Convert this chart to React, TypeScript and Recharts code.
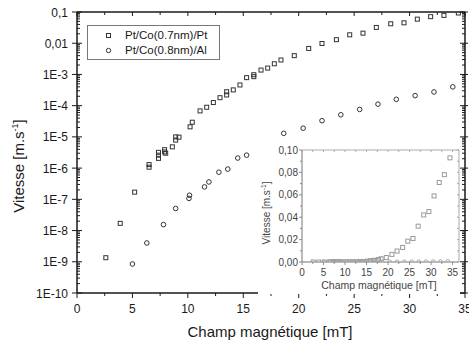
import React from 'react';
import { ScatterChart, Scatter, XAxis, YAxis, Legend } from 'recharts';

const FONT = 'Arial, "Liberation Sans", Helvetica, sans-serif';

// Pt/Co(0.7nm)/Pt
const ptPtField = [2.6, 3.9, 5.2, 6.5, 6.5, 7.35, 7.35, 7.35, 7.9, 7.9, 8.0, 8.6, 8.9, 8.9, 9.2, 10.2, 10.4, 11.1, 11.7, 12.3, 12.9, 13.5, 13.5, 14.1, 14.7, 15.3, 15.95, 15.95, 16.6, 17.2, 17.8, 18.4, 19.6, 20.9, 22.1, 23.4, 24.6, 25.8, 27.0, 28.3, 29.5, 30.7, 31.9, 33.1, 34.4];
const ptPtSpeed = [1.35e-9, 1.7e-8, 1.7e-7, 1.3e-6, 1.07e-6, 3.2e-6, 2.6e-6, 2.05e-6, 3.9e-6, 3.3e-6, 3.0e-6, 4.8e-6, 1.0e-5, 7.9e-6, 9.8e-6, 2.1e-5, 2.95e-5, 6.8e-5, 8.9e-5, 1.26e-4, 1.8e-4, 2.2e-4, 2.8e-4, 3.2e-4, 4.6e-4, 7.9e-4, 9.8e-4, 8.5e-4, 1.38e-3, 1.6e-3, 2.2e-3, 2.9e-3, 4.0e-3, 6.8e-3, 9.8e-3, 1.3e-2, 1.86e-2, 2.1e-2, 3.2e-2, 4.2e-2, 4.5e-2, 5.9e-2, 7.1e-2, 7.8e-2, 9.3e-2];

// Pt/Co(0.8nm)/Al
const ptAlField = [5.0, 6.3, 7.8, 8.9, 10.1, 10.15, 11.5, 11.9, 12.8, 13.6, 14.5, 15.3, 17.0, 18.65, 20.4, 22.1, 23.8, 25.5, 27.15, 28.8, 30.5, 32.2, 33.9];
const ptAlSpeed = [8.5e-10, 4.0e-9, 1.55e-8, 5.1e-8, 1.07e-7, 1.35e-7, 2.5e-7, 3.6e-7, 7.4e-7, 9.3e-7, 2.1e-6, 2.6e-6, 5.6e-6, 1.3e-5, 1.9e-5, 3.3e-5, 5.1e-5, 7.6e-5, 1.12e-4, 1.6e-4, 2.1e-4, 2.75e-4, 4.0e-4];

const seriesNames = ['Pt/Co(0.7nm)/Pt', 'Pt/Co(0.8nm)/Al'];

// main axes
const fieldTicks = [0, 2.5, 5, 7.5, 10, 12.5, 15, 17.5, 20, 22.5, 25, 27.5, 30, 32.5, 35];
const fieldMajor = [0, 5, 10, 15, 20, 25, 30, 35];
const speedDecades = [1e-10, 1e-9, 1e-8, 1e-7, 1e-6, 1e-5, 1e-4, 1e-3, 1e-2, 1e-1];
const speedLabels = ['1E-10', '1E-9', '1E-8', '1E-7', '1E-6', '1E-5', '1E-4', '1E-3', '0,01', '0,1'];
const minorMult = [2, 3, 4, 5, 6, 7, 8, 9];

// inset axes
const insetFieldTicks = [0, 2.5, 5, 7.5, 10, 12.5, 15, 17.5, 20, 22.5, 25, 27.5, 30, 32.5, 35];
const insetSpeedTicks = [0, 0.01, 0.02, 0.03, 0.04, 0.05, 0.06, 0.07, 0.08, 0.09, 0.1];
const insetSpeedMajor = [0, 0.02, 0.04, 0.06, 0.08, 0.1];
const insetSpeedLabels = ['0,00', '0,02', '0,04', '0,06', '0,08', '0,10'];

const ptPtData = ptPtField.map((f, i) => ({ field: f, speed: ptPtSpeed[i] }));
const ptAlData = ptAlField.map((f, i) => ({ field: f, speed: ptAlSpeed[i] }));

const speedTicks = [
  ...speedDecades,
  ...speedDecades.slice(0, -1).flatMap((d) => minorMult.map((m) => m * d)),
].sort((a, b) => a - b);

const speedLabelOf = new Map(speedDecades.map((d, i) => [d, speedLabels[i]]));
const insetLabelOf = new Map(insetSpeedMajor.map((d, i) => [d, insetSpeedLabels[i]]));

const INK = '#1a1a1a';
const GREY = '#777';

const BottomTick = ({ x, y, payload }: any) => {
  const major = fieldMajor.includes(payload.value);
  return (
    <g>
      <line x1={x} x2={x} y1={y} y2={y + (major ? 5 : 3)} stroke={INK} strokeWidth={1} />
      {major && (
        <text x={x} y={y + 20} textAnchor="middle" fontSize={12} fontFamily={FONT} fill={INK}>
          {payload.value}
        </text>
      )}
    </g>
  );
};

const TopTick = ({ x, y, payload }: any) => {
  const major = fieldMajor.includes(payload.value);
  return <line x1={x} x2={x} y1={y} y2={y + (major ? 4 : 3)} stroke={INK} strokeWidth={1} />;
};

const LeftTick = ({ x, y, payload }: any) => {
  const label = speedLabelOf.get(payload.value);
  return (
    <g>
      <line x1={label ? x - 5 : x} x2={label ? x + 5 : x + 3} y1={y} y2={y} stroke={INK} strokeWidth={1} />
      {label && (
        <text x={x - 9} y={y + 4.5} textAnchor="end" fontSize={12} fontFamily={FONT} fill={INK}>
          {label}
        </text>
      )}
    </g>
  );
};

const RightTick = ({ x, y, payload }: any) => {
  const major = speedLabelOf.has(payload.value);
  return <line x1={major ? x - 5 : x - 3} x2={major ? x + 3 : x} y1={y} y2={y} stroke={INK} strokeWidth={1} />;
};

const InsetBottomTick = ({ x, y, payload }: any) => {
  const major = fieldMajor.includes(payload.value);
  return (
    <g>
      <line x1={x} x2={x} y1={y} y2={y + (major ? 3 : 2)} stroke={GREY} strokeWidth={0.8} />
      {major && (
        <text x={x} y={y + 14} textAnchor="middle" fontSize={10} fontFamily={FONT} fill="#444">
          {payload.value}
        </text>
      )}
    </g>
  );
};

const InsetTopTick = ({ x, y }: any) => (
  <line x1={x} x2={x} y1={y} y2={y + 2} stroke="#999" strokeWidth={0.8} />
);

const InsetLeftTick = ({ x, y, payload }: any) => {
  const label = insetLabelOf.get(payload.value);
  return (
    <g>
      <line x1={x - (label ? 3 : 2)} x2={x} y1={y} y2={y} stroke={GREY} strokeWidth={0.8} />
      {label && (
        <text x={x - 4} y={y + 3.5} textAnchor="end" fontSize={10} fontFamily={FONT} fill="#444">
          {label}
        </text>
      )}
    </g>
  );
};

const InsetRightTick = ({ x, y }: any) => (
  <line x1={x - 2} x2={x} y1={y} y2={y} stroke="#999" strokeWidth={0.8} />
);

const square = (color: string, s: number) => (p: any) => (
  <rect x={p.cx - s / 2} y={p.cy - s / 2} width={s} height={s} fill="none" stroke={color} strokeWidth={1} />
);
const circle = (color: string, r: number) => (p: any) => (
  <circle cx={p.cx} cy={p.cy} r={r} fill="none" stroke={color} strokeWidth={1} />
);
const nothing = () => <g />;

const LegendBox = () => (
  <div
    style={{
      width: 133,
      height: 35,
      border: `1px solid ${GREY}`,
      background: '#fff',
      fontFamily: FONT,
      fontSize: 11.5,
      color: INK,
      paddingTop: 2,
      boxSizing: 'border-box',
    }}
  >
    {seriesNames.map((name, i) => (
      <div key={name} style={{ display: 'flex', alignItems: 'center', height: 15 }}>
        <svg width={37} height={15}>
          {i === 0 ? (
            <rect x={18.5} y={5.5} width={4} height={4} fill="none" stroke="#333" />
          ) : (
            <circle cx={20.5} cy={7.5} r={2.2} fill="none" stroke="#333" />
          )}
        </svg>
        <span style={{ lineHeight: '15px', whiteSpace: 'nowrap' }}>{name}</span>
      </div>
    ))}
  </div>
);

const MainYTitle = () => (
  <text transform="rotate(-90 24 166)" x={24} y={166} textAnchor="middle" fontSize={15} fontFamily={FONT} fill={INK}>
    Vitesse [m.s<tspan dy={-6} fontSize={9}>-1</tspan>
    <tspan dy={6}>]</tspan>
  </text>
);

const MainXTitle = () => (
  <text x={270} y={337} textAnchor="middle" fontSize={15} fontFamily={FONT} fill={INK}>
    Champ magnétique [mT]
  </text>
);

const InsetYTitle = () => (
  <text transform="rotate(-90 12 72)" x={12} y={72} textAnchor="middle" fontSize={10} fontFamily={FONT} fill="#444">
    Vitesse [m.s<tspan dy={-4} fontSize={6.5}>-1</tspan>
    <tspan dy={4}>]</tspan>
  </text>
);

const InsetXTitle = () => (
  <text x={121} y={148} textAnchor="middle" fontSize={10.5} fontFamily={FONT} fill="#444">
    Champ magnétique [mT]
  </text>
);

export default function App() {
  return (
    <div style={{ position: 'absolute', left: 0, top: 0, width: 469, height: 345, background: '#fff' }}>
      <ScatterChart width={469} height={345} margin={{ top: 12, right: 4, bottom: 22, left: 17 }}>
        <XAxis
          xAxisId="main"
          dataKey="field"
          type="number"
          domain={[0, 35]}
          ticks={fieldTicks}
          interval={0}
          tickSize={0}
          tickMargin={0}
          tick={<BottomTick />}
          height={30}
          axisLine={{ stroke: INK, strokeWidth: 1.5 }}
          allowDataOverflow
          label={<MainXTitle />}
        />
        <XAxis
          xAxisId="top"
          orientation="top"
          dataKey="field"
          type="number"
          domain={[0, 35]}
          ticks={fieldTicks}
          interval={0}
          tickSize={0}
          tickMargin={0}
          tick={<TopTick />}
          height={1}
          mirror
          axisLine={{ stroke: INK, strokeWidth: 1.5 }}
          allowDataOverflow
        />
        <YAxis
          yAxisId="main"
          dataKey="speed"
          type="number"
          scale="log"
          domain={[1e-10, 0.1]}
          ticks={speedTicks}
          interval={0}
          tickSize={0}
          tickMargin={0}
          tick={<LeftTick />}
          width={60}
          axisLine={{ stroke: INK, strokeWidth: 1.5 }}
          allowDataOverflow
          label={<MainYTitle />}
        />
        <YAxis
          yAxisId="right"
          orientation="right"
          dataKey="speed"
          type="number"
          scale="log"
          domain={[1e-10, 0.1]}
          ticks={speedTicks}
          interval={0}
          tickSize={0}
          tickMargin={0}
          tick={<RightTick />}
          width={1}
          mirror
          axisLine={{ stroke: INK, strokeWidth: 1.5 }}
          allowDataOverflow
        />
        <Legend
          layout="horizontal"
          verticalAlign="middle"
          align="center"
          wrapperStyle={{ left: 87, top: 25, width: 134 }}
          content={<LegendBox />}
        />
        <Scatter
          name={seriesNames[0]}
          data={ptPtData}
          xAxisId="main"
          yAxisId="main"
          shape={square('#333', 4)}
          isAnimationActive={false}
        />
        <Scatter
          name={seriesNames[1]}
          data={ptAlData}
          xAxisId="main"
          yAxisId="main"
          shape={circle('#333', 2.3)}
          isAnimationActive={false}
        />
        <Scatter
          data={ptPtData}
          xAxisId="top"
          yAxisId="right"
          shape={nothing}
          legendType="none"
          isAnimationActive={false}
        />
      </ScatterChart>

      <div style={{ position: 'absolute', left: 258, top: 141, width: 202, height: 153, background: '#fff' }}>
        <ScatterChart width={202} height={153} margin={{ top: 9, right: 1, bottom: 2, left: 8 }}>
          <XAxis
            xAxisId="main"
            dataKey="field"
            type="number"
            domain={[0, 36.5]}
            ticks={insetFieldTicks}
            interval={0}
            tickSize={0}
            tickMargin={0}
            tick={<InsetBottomTick />}
            height={30}
            axisLine={{ stroke: GREY, strokeWidth: 1 }}
            allowDataOverflow
            label={<InsetXTitle />}
          />
          <XAxis
            xAxisId="top"
            orientation="top"
            dataKey="field"
            type="number"
            domain={[0, 36.5]}
            ticks={insetFieldTicks}
            interval={0}
            tickSize={0}
            tickMargin={0}
            tick={<InsetTopTick />}
            height={1}
            mirror
            axisLine={{ stroke: '#aaa', strokeWidth: 1 }}
            allowDataOverflow
          />
          <YAxis
            yAxisId="main"
            dataKey="speed"
            type="number"
            domain={[0, 0.1]}
            ticks={insetSpeedTicks}
            interval={0}
            tickSize={0}
            tickMargin={0}
            tick={<InsetLeftTick />}
            width={36}
            axisLine={{ stroke: GREY, strokeWidth: 1 }}
            allowDataOverflow
            label={<InsetYTitle />}
          />
          <YAxis
            yAxisId="right"
            orientation="right"
            dataKey="speed"
            type="number"
            domain={[0, 0.1]}
            ticks={insetSpeedTicks}
            interval={0}
            tickSize={0}
            tickMargin={0}
            tick={<InsetRightTick />}
            width={1}
            mirror
            axisLine={{ stroke: '#aaa', strokeWidth: 1 }}
            allowDataOverflow
          />
          <Scatter
            data={ptPtData}
            xAxisId="main"
            yAxisId="main"
            shape={square('#9a9a9a', 4)}
            isAnimationActive={false}
          />
          <Scatter
            data={ptAlData}
            xAxisId="main"
            yAxisId="main"
            shape={circle('#aaa', 2)}
            isAnimationActive={false}
          />
          <Scatter
            data={ptPtData}
            xAxisId="top"
            yAxisId="right"
            shape={nothing}
            isAnimationActive={false}
          />
        </ScatterChart>
      </div>
    </div>
  );
}
